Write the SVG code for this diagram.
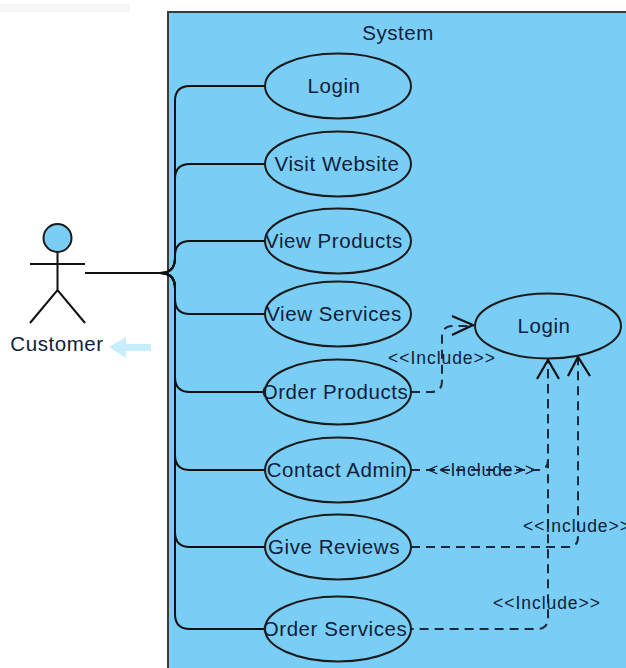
<svg xmlns="http://www.w3.org/2000/svg" width="626" height="668" viewBox="0 0 626 668">
<style>
text{font-family:"Liberation Sans",Arial,sans-serif;fill:#10203a;text-anchor:middle}
.n{font-size:20.500px;letter-spacing:0.550px}
.i{font-size:17.500px;letter-spacing:0.950px}
ellipse{fill:#7acef5;stroke:#1a1a1a;stroke-width:2}
.c{fill:none;stroke:#111;stroke-width:2}
.d{fill:none;stroke:#1a2a3a;stroke-width:2;stroke-dasharray:9 6}
.a{fill:none;stroke:#111;stroke-width:2.200}
</style>
<rect width="626" height="668" fill="#fff"/>
<rect x="-2" y="5" width="131" height="6" fill="#f8f8fb" stroke="#eeeeee" stroke-width="1"/>
<g id="system">
<rect x="168" y="12" width="470" height="670" fill="#7acef5" stroke="#3a3a3a" stroke-width="2"/>
<text class="n" x="398" y="40">System</text>
</g>
<g id="connectors">
<path class="c" d="M85 273H160Q175 273 175 258V101Q175 86 190 86H266"/>
<path class="c" d="M160 273Q175 273 175 258V179Q175 164 190 164H266"/>
<path class="c" d="M160 273Q175 273 175 258V256Q175 241 190 241H266"/>
<path class="c" d="M160 273Q175 273 175 288V299Q175 314 190 314H266"/>
<path class="c" d="M160 273Q175 273 175 288V377Q175 392 190 392H266"/>
<path class="c" d="M160 273Q175 273 175 288V455Q175 470 190 470H266"/>
<path class="c" d="M160 273Q175 273 175 288V532Q175 547 190 547H266"/>
<path class="c" d="M160 273Q175 273 175 288V614Q175 629 190 629H266"/>
<path class="d" d="M411 392H431Q442 392 442 381V337Q442 326 453 326H474"/>
<path class="a" d="M452 316L473 325L452 335"/>
<path class="d" d="M411 470H538Q548 470 548 460V360"/>
<path class="d" d="M411 547H568Q578 547 578 537V358"/>
<path class="d" stroke-dashoffset="6.400" d="M411 629H537Q548 629 548 618V360"/>
<path class="a" d="M537 379L548 360L559 379"/>
<path class="a" d="M568 376L578 357L590 376"/>
</g>
<g id="actor">
<circle cx="57.500" cy="238" r="14" fill="#7acef5" stroke="#1a1a1a" stroke-width="2"/>
<path class="c" d="M57.500 252V290M30 264H85M30 323L57.500 290L85 323"/>
<text class="n" x="57" y="351">Customer</text>
</g>
<path id="arrow" d="M109 347L126 337V344H151V351H126V358Z" fill="#c8edfc"/>
<g id="login1"><ellipse cx="338" cy="86" rx="73" ry="32.500"/><text class="n" x="334" y="93">Login</text></g>
<g id="visit"><ellipse cx="338" cy="164" rx="73" ry="32.500"/><text class="n" x="337" y="171">Visit Website</text></g>
<g id="viewp"><ellipse cx="338" cy="241" rx="73" ry="32.500"/><text class="n" x="334" y="248">View Products</text></g>
<g id="views"><ellipse cx="338" cy="314" rx="73" ry="32.500"/><text class="n" x="334" y="321">View Services</text></g>
<g id="orderp"><ellipse cx="338" cy="392" rx="73" ry="32.500"/><text class="n" x="335" y="399">Order Products</text></g>
<g id="contact"><ellipse cx="338" cy="470" rx="73" ry="32.500"/><text class="n" x="337" y="477">Contact Admin</text></g>
<g id="reviews"><ellipse cx="338" cy="547" rx="73" ry="32.500"/><text class="n" x="334" y="554">Give Reviews</text></g>
<g id="orders"><ellipse cx="338" cy="629" rx="73" ry="32.500"/><text class="n" x="335" y="636">Order Services</text></g>
<g id="login2"><ellipse cx="548" cy="326" rx="73" ry="32.500"/><text class="n" x="544" y="333">Login</text></g>
<g id="labels">
<text class="i" x="442" y="364">&lt;&lt;Include&gt;&gt;</text>
<text class="i" x="482" y="476">&lt;&lt;Include&gt;&gt;</text>
<text class="i" x="577" y="532">&lt;&lt;Include&gt;&gt;</text>
<text class="i" x="547" y="609">&lt;&lt;Include&gt;&gt;</text>
</g>
</svg>
